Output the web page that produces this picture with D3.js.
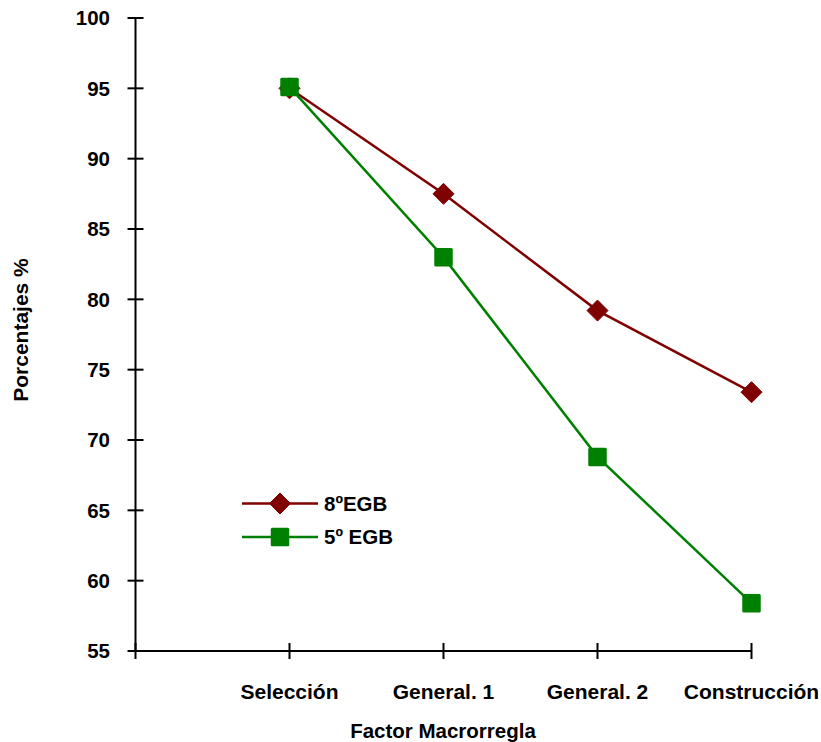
<!DOCTYPE html>
<html>
<head>
<meta charset="utf-8">
<script src="https://cdn.jsdelivr.net/npm/d3@7"></script>
<style>
  html, body { margin: 0; padding: 0; background: #fff; }
  svg { display: block; }
  text { font-family: "Liberation Sans", Arial, sans-serif; font-weight: bold; fill: #000; }
</style>
</head>
<body>
<script>
const categories = ["Selección", "General. 1", "General. 2", "Construcción"];
const series8 = [95.0, 87.5, 79.2, 73.4];
const series5 = [95.1, 83.0, 68.8, 58.4];
const seriesNames = ["8ºEGB", "5º EGB"];
const yTicks = [55, 60, 65, 70, 75, 80, 85, 90, 95, 100];
const xTitle = "Factor Macrorregla";
const yTitle = "Porcentajes %";

const W = 821, H = 742;
const svg = d3.select("body").append("svg").attr("width", W).attr("height", H);

const x0 = 135.5, x1 = 751.5, yTop = 18, yBot = 651;
const x = d3.scaleLinear().domain([0, categories.length]).range([x0, x1]);
const y = d3.scaleLinear().domain([55, 100]).range([yBot, yTop]);

// Axes lines
const axisColor = "#000";
svg.append("line").attr("x1", x0).attr("x2", x0).attr("y1", yTop).attr("y2", yBot)
  .attr("stroke", axisColor).attr("stroke-width", 2);
svg.append("line").attr("x1", x0).attr("x2", x1).attr("y1", yBot).attr("y2", yBot)
  .attr("stroke", axisColor).attr("stroke-width", 2);

// Y ticks (cross)
svg.selectAll(".yt").data(yTicks).enter().append("line")
  .attr("x1", x0 - 8).attr("x2", x0 + 8)
  .attr("y1", d => y(d)).attr("y2", d => y(d))
  .attr("stroke", axisColor).attr("stroke-width", 2);
svg.selectAll(".yl").data(yTicks).enter().append("text")
  .attr("x", 110).attr("y", d => y(d)).attr("dy", "0.36em")
  .attr("text-anchor", "end").attr("font-size", 20.5).text(d => d);

// X ticks (cross) at 0..n
const xTickIdx = d3.range(0, categories.length + 1);
svg.selectAll(".xt").data(xTickIdx).enter().append("line")
  .attr("x1", d => x(d)).attr("x2", d => x(d))
  .attr("y1", yBot - 8).attr("y2", yBot + 8)
  .attr("stroke", axisColor).attr("stroke-width", 2);
svg.selectAll(".xl").data(categories).enter().append("text")
  .attr("x", (d, i) => x(i + 1)).attr("y", 699)
  .attr("text-anchor", "middle").attr("font-size", 21).text(d => d);

// Titles
svg.append("text").attr("x", 443).attr("y", 738).attr("text-anchor", "middle")
  .attr("font-size", 20.5).text(xTitle);
svg.append("text").attr("transform", "translate(28,330) rotate(-90)")
  .attr("text-anchor", "middle").attr("font-size", 21).text(yTitle);

const red = "#800000", green = "#008000";
const line = d3.line().x((d, i) => x(i + 1)).y(d => y(d));

function diamond(g, cx, cy, color) {
  const r = 10.5;
  g.append("path")
    .attr("d", `M${cx},${cy - r}L${cx + r},${cy}L${cx},${cy + r}L${cx - r},${cy}Z`)
    .attr("fill", color).attr("stroke", color).attr("stroke-width", 1).attr("stroke-linejoin", "round");
}
function square(g, cx, cy, color) {
  const s = 18.5;
  g.append("rect").attr("x", cx - s / 2).attr("y", cy - s / 2).attr("width", s).attr("height", s)
    .attr("rx", 1.5).attr("fill", color);
}

// Series 8º
const g8 = svg.append("g");
g8.append("path").datum(series8).attr("d", line).attr("fill", "none")
  .attr("stroke", red).attr("stroke-width", 2.5);
series8.forEach((v, i) => diamond(g8, x(i + 1), y(v), red));

// Series 5º
const g5 = svg.append("g");
g5.append("path").datum(series5).attr("d", line).attr("fill", "none")
  .attr("stroke", green).attr("stroke-width", 2.5);
series5.forEach((v, i) => square(g5, x(i + 1), y(v), green));

// Legend
const legY = [503.5, 537];
const leg = svg.append("g");
leg.append("line").attr("x1", 242).attr("x2", 318).attr("y1", legY[0]).attr("y2", legY[0])
  .attr("stroke", red).attr("stroke-width", 2.5);
diamond(leg, 280, legY[0], red);
leg.append("line").attr("x1", 242).attr("x2", 318).attr("y1", legY[1]).attr("y2", legY[1])
  .attr("stroke", green).attr("stroke-width", 2.5);
square(leg, 280, legY[1], green);
leg.selectAll(".lt").data(seriesNames).enter().append("text")
  .attr("x", 324).attr("y", (d, i) => legY[i]).attr("dy", "0.36em")
  .attr("font-size", 20.5).text(d => d);
</script>
</body>
</html>
